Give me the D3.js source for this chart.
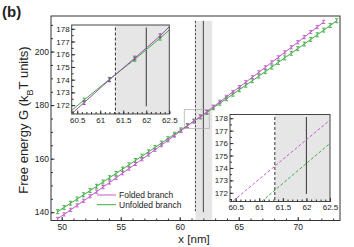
<!DOCTYPE html>
<html>
<head>
<meta charset="utf-8">
<script src="https://cdn.jsdelivr.net/npm/d3@7"></script>
<style>
body { margin: 0; background: #fff; }
text { font-family: "Liberation Sans", Arial, sans-serif; fill: #222; }
</style>
</head>
<body>
<script>
// extension x (nm) of the sampled points
var xPts = [49.65, 50.2, 50.75, 51.3, 51.85, 52.4, 52.95, 53.5, 54.05, 54.6,
    55.15, 55.7, 56.25, 56.8, 57.35, 57.9, 58.45, 59.0, 59.55, 60.1,
    60.65, 61.2, 61.75, 62.3, 62.85, 63.4, 63.95, 64.5, 65.05, 65.6,
    66.15, 66.7, 67.25, 67.8, 68.35, 68.9, 69.45, 70.0, 70.55, 71.1,
    71.65, 72.2, 72.75, 73.3];
// free energy, kBT
var foldedG = [137.5, 139.18, 140.87, 142.56, 144.26, 145.96, 147.67, 149.38, 151.1, 152.83,
    154.56, 156.3, 158.04, 159.79, 161.55, 163.31, 165.08, 166.85, 168.63, 170.41,
    172.2, 173.99, 175.7, 177.45, 179.41, 181.23, 183.06, 184.89, 186.72, 188.56,
    190.41, 192.26, 194.12, 195.98, 197.85, 199.73, 201.61, 203.5, 205.39, 207.29,
    209.19, 211.1];
var unfoldedG = [140.2, 141.77, 143.34, 144.92, 146.5, 148.09, 149.68, 151.28, 152.88, 154.48,
    156.09, 157.7, 159.32, 160.94, 162.56, 164.19, 165.82, 167.46, 169.1, 170.75,
    172.4, 174.03, 175.6, 177.26, 179.04, 180.71, 182.39, 184.07, 185.75, 187.44,
    189.13, 190.83, 192.53, 194.23, 195.94, 197.66, 199.37, 201.1, 202.82, 204.55,
    206.29, 208.03, 209.77, 211.52];
var errG = 0.15;

// dashed curves of the lower inset
var foldedDashX = [60.45, 62.5];
var foldedDashG = [171.35, 177.86];
var unfoldedDashX = [61.05, 62.5];
var unfoldedDashG = [171.3, 175.98];

var xDashed = 61.33, xSolid = 62, xShadeEnd = 62.75;

var xTicksMain = [50, 55, 60, 65, 70];
var yTicksMain = [140, 160, 180, 200];
var xTicksInset = [60.5, 61, 61.5, 62, 62.5];
var yTicksInset = [172, 173, 174, 175, 176, 177, 178];
var legendLabels = ["Folded branch", "Unfolded branch"];

var magenta = "#c05ac9", green = "#3aae3f";

var width = 354, height = 247;
var svg = d3.select("body").append("svg")
    .attr("width", width)
    .attr("height", height);

var folded = foldedG.map(function(g, i) { return [xPts[i], g]; });
var unfolded = unfoldedG.map(function(g, i) { return [xPts[i], g]; });

// ---- main panel
var x = d3.scaleLinear().domain([49.09, 73.58]).range([51, 340]);
var y = d3.scaleLinear().domain([136.9, 213.3]).range([220.5, 16]);

svg.append("clipPath").attr("id", "clipMain")
  .append("rect")
    .attr("x", 51).attr("y", 16).attr("width", 289).attr("height", 204.5);

var main = svg.append("g").attr("clip-path", "url(#clipMain)");

main.append("rect")
    .attr("x", x(xDashed))
    .attr("y", y(211.5))
    .attr("width", x(xShadeEnd) - x(xDashed))
    .attr("height", y(136.9) - y(211.5))
    .attr("fill", "#e6e6e6");

main.append("line")
    .attr("x1", x(xDashed)).attr("x2", x(xDashed))
    .attr("y1", y(211.5)).attr("y2", y(140))
    .attr("stroke", "#444").attr("stroke-dasharray", "2.5,1.5");
main.append("line")
    .attr("x1", x(xSolid)).attr("x2", x(xSolid))
    .attr("y1", y(211.5)).attr("y2", y(140))
    .attr("stroke", "#444");

// zoom box
main.append("rect")
    .attr("x", x(60.38)).attr("y", y(178.3))
    .attr("width", x(62.5) - x(60.38))
    .attr("height", y(171.3) - y(178.3))
    .attr("fill", "none").attr("stroke", "#aaa").attr("stroke-width", 0.7);

var lineMain = d3.line().x(function(d) { return x(d[0]); }).y(function(d) { return y(d[1]); });

function markers(g, data, color, sx, sy, half) {
    g.selectAll(null)
        .data(data)
        .enter().append("path")
        .attr("d", function(d) {
            var px = sx(d[0]), top = half ? sy(d[1]) - half : sy(d[1] + errG),
                bot = half ? sy(d[1]) + half : sy(d[1] - errG);
            return "M" + (px - 1.6) + "," + top + "h3.2M" + px + "," + top + "V" + bot +
                "M" + (px - 1.6) + "," + bot + "h3.2";
        })
        .attr("fill", "none")
        .attr("stroke", color)
        .attr("stroke-width", 0.9);
}

main.append("path").datum(unfolded).attr("d", lineMain)
    .attr("fill", "none").attr("stroke", green).attr("stroke-width", 1);
main.append("path").datum(folded).attr("d", lineMain)
    .attr("fill", "none").attr("stroke", magenta).attr("stroke-width", 1);
markers(main, unfolded, green, x, y, 2);
markers(main, folded, magenta, x, y, 1.6);

// axes, ticks pointing inward
function axes(xs, ys, xt, yt, xMinor, yMinor, fs, fmtX) {
    var r = ys.range(), b = r[0], t = r[1], l = xs.range()[0];
    var ax = svg.append("g").attr("transform", "translate(0," + b + ")")
        .call(d3.axisBottom(xs).tickValues(xt).tickSizeInner(-3.5).tickSizeOuter(0)
            .tickPadding(3).tickFormat(fmtX || d3.format("")));
    var axm = svg.append("g").attr("transform", "translate(0," + b + ")")
        .call(d3.axisBottom(xs).tickValues(xMinor).tickSizeInner(-2).tickSizeOuter(0).tickFormat(""));
    var ay = svg.append("g").attr("transform", "translate(" + l + ",0)")
        .call(d3.axisLeft(ys).tickValues(yt).tickSizeInner(-3.5).tickSizeOuter(0)
            .tickPadding(2).tickFormat(d3.format("")));
    var aym = svg.append("g").attr("transform", "translate(" + l + ",0)")
        .call(d3.axisLeft(ys).tickValues(yMinor).tickSizeInner(-2).tickSizeOuter(0).tickFormat(""));
    [ax, axm, ay, aym].forEach(function(a) {
        a.select(".domain").remove();
        a.selectAll("line").attr("stroke", "#333");
        a.selectAll("text").style("font-size", fs + "px").attr("fill", "#222");
    });
}

svg.append("rect")
    .attr("x", 51).attr("y", 16).attr("width", 289).attr("height", 204.5)
    .attr("fill", "none").attr("stroke", "#333").attr("stroke-width", 1);

axes(x, y, xTicksMain, yTicksMain, d3.range(50, 74, 1), d3.range(140, 214, 5), 8.5);

// ---- insets
var xi1 = d3.scaleLinear().domain([60.38, 62.5]).range([71.7, 169.3]);
var yi1 = d3.scaleLinear().domain([171.3, 178.3]).range([114, 25]);
var xi2 = d3.scaleLinear().domain([60.38, 62.5]).range([230, 330]);
var yi2 = d3.scaleLinear().domain([171.3, 178.3]).range([201.5, 114.5]);

function insetFrame(id, xs, ys) {
    var l = xs.range()[0], r = xs.range()[1], t = ys.range()[1], b = ys.range()[0];
    svg.append("rect").attr("x", l).attr("y", t).attr("width", r - l).attr("height", b - t)
        .attr("fill", "#fff");
    svg.append("clipPath").attr("id", id)
      .append("rect").attr("x", l).attr("y", t).attr("width", r - l).attr("height", b - t);
    var g = svg.append("g").attr("clip-path", "url(#" + id + ")");
    g.append("rect")
        .attr("x", xs(xDashed)).attr("y", t)
        .attr("width", r - xs(xDashed)).attr("height", b - t)
        .attr("fill", "#e6e6e6");
    g.append("line")
        .attr("x1", xs(xDashed)).attr("x2", xs(xDashed))
        .attr("y1", ys(178.1)).attr("y2", b)
        .attr("stroke", "#444").attr("stroke-width", 1.1).attr("stroke-dasharray", "3,2");
    g.append("line")
        .attr("x1", xs(xSolid)).attr("x2", xs(xSolid))
        .attr("y1", ys(178.1)).attr("y2", ys(171.9))
        .attr("stroke", "#444").attr("stroke-width", 1.1);
    return g;
}

function insetBorder(xs, ys) {
    var l = xs.range()[0], r = xs.range()[1], t = ys.range()[1], b = ys.range()[0];
    svg.append("rect").attr("x", l).attr("y", t).attr("width", r - l).attr("height", b - t)
        .attr("fill", "none").attr("stroke", "#444").attr("stroke-width", 1);
    axes(xs, ys, xTicksInset, yTicksInset, d3.range(604, 626, 1).map(function(v) { return v / 10; }),
        d3.range(3430, 3566, 10).map(function(v) { return v / 20; }), 8, d3.format(""));
}

var g1 = insetFrame("clipI1", xi1, yi1);
var line1 = d3.line().x(function(d) { return xi1(d[0]); }).y(function(d) { return yi1(d[1]); });
g1.append("path").datum(unfolded).attr("d", line1)
    .attr("fill", "none").attr("stroke", green).attr("stroke-width", 1);
g1.append("path").datum(folded).attr("d", line1)
    .attr("fill", "none").attr("stroke", "#a04aae").attr("stroke-width", 1);
markers(g1, unfolded.filter(function(d) { return d[0] > 60.4 && d[0] < 62.5; }), green, xi1, yi1, 0);
markers(g1, folded.filter(function(d) { return d[0] > 60.4 && d[0] < 62.5; }), "#8e3e9c", xi1, yi1, 0);
insetBorder(xi1, yi1);

var g2 = insetFrame("clipI2", xi2, yi2);
var line2 = d3.line().x(function(d) { return xi2(d[0]); }).y(function(d) { return yi2(d[1]); });
g2.append("path").datum(foldedDashX.map(function(v, i) { return [v, foldedDashG[i]]; }))
    .attr("d", line2).attr("fill", "none").attr("stroke", magenta)
    .attr("stroke-width", 1).attr("stroke-dasharray", "3,2");
g2.append("path").datum(unfoldedDashX.map(function(v, i) { return [v, unfoldedDashG[i]]; }))
    .attr("d", line2).attr("fill", "none").attr("stroke", green)
    .attr("stroke-width", 1).attr("stroke-dasharray", "3,2");
insetBorder(xi2, yi2);

// ---- legend
var legend = svg.append("g").attr("transform", "translate(97,195)");
legendLabels.forEach(function(lab, i) {
    legend.append("line").attr("x1", 0).attr("x2", 19).attr("y1", i * 9.7).attr("y2", i * 9.7)
        .attr("stroke", i === 0 ? magenta : green).attr("stroke-width", 1);
    legend.append("text").attr("x", 22).attr("y", i * 9.7 + 3).style("font-size", "8.5px").text(lab);
});

// ---- titles
var yt = svg.append("text")
    .attr("transform", "translate(28,120) rotate(-90)")
    .attr("text-anchor", "middle")
    .style("font-size", "13px");
yt.append("tspan").text("Free energy G (k");
yt.append("tspan").attr("baseline-shift", "sub").style("font-size", "9px").text("B");
yt.append("tspan").text("T units)");

svg.append("text").attr("x", 194).attr("y", 243).attr("text-anchor", "middle")
    .style("font-size", "11.5px").text("x [nm]");

svg.append("text").attr("x", 2).attr("y", 17)
    .style("font-size", "15px").style("font-weight", "bold").text("(b)");
</script>
</body>
</html>
